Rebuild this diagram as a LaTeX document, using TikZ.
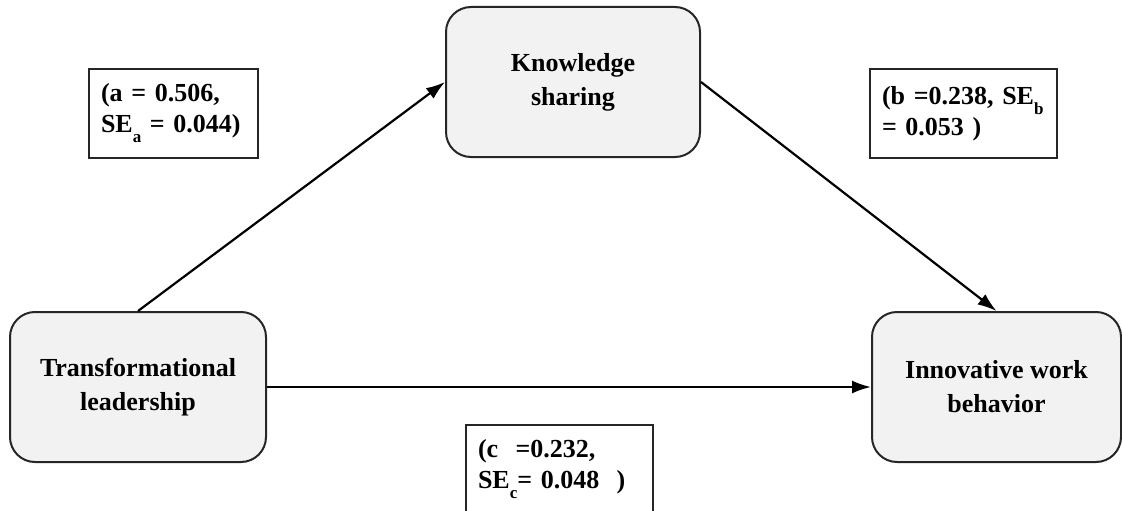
\documentclass[tikz,border=0pt]{standalone}
\usepackage{fontspec}
\setmainfont{Liberation Serif}
\usetikzlibrary{arrows.meta}
\newcommand{\lowsub}[1]{\raisebox{-10pt}{\fontsize{17}{17}\selectfont #1}}
\begin{document}
\begin{tikzpicture}[x=1pt,y=-1pt]
\tikzset{var/.style={draw=black!85,fill=black!5,line width=2pt,rounded corners=25pt,minimum width=254pt,minimum height=150pt,align=center,font=\fontsize{26}{34}\selectfont\bfseries}}
\tikzset{coef/.style={draw=black!85,line width=2pt,minimum height=89pt,inner xsep=12pt,align=left,anchor=north west,font=\fontsize{26}{31}\selectfont\bfseries}}
\tikzset{>={Latex[length=19pt,width=13pt]}}
\useasboundingbox (0,0) rectangle (1122,511);

\node[var] (ks) at (573,82) {Knowledge\\sharing};
\node[var,minimum width=256pt] (tl) at (138,387) {Transformational\\leadership};
\node[var,minimum width=249pt] (iwb) at (996.5,387) {Innovative work\\behavior};

\node[coef,text width=145pt] (ca) at (88,68) {(a = 0.506,\\SE\lowsub{a} = 0.044)};
\node[coef,text width=163pt] (cb) at (869,68) {(b =0.238, SE\lowsub{b}\\= 0.053 )};
\node[coef,text width=163pt] (cc) at (465,424) {(c~ =0.232,\\SE\lowsub{c}= 0.048~ )};

\draw[line width=2.2pt,->] (tl.north) -- (ks.west);
\draw[line width=2.2pt,->] (ks.east) -- (iwb.north);
\draw[line width=2.2pt,->] (tl.east) -- (iwb.west);

\end{tikzpicture}
\end{document}
